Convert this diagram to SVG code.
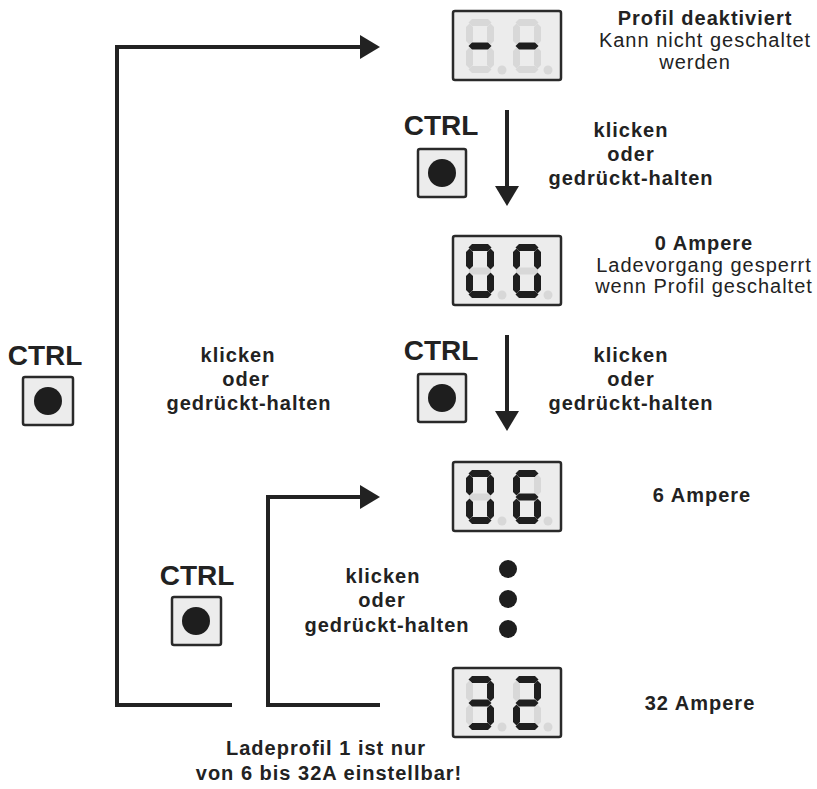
<svg xmlns="http://www.w3.org/2000/svg" width="817" height="789" viewBox="0 0 817 789">
<style>
text{font-family:"Liberation Sans",Arial,sans-serif;fill:#222;text-anchor:middle}
.b{font-weight:bold}
.t{font-size:20px;letter-spacing:1px}
.ctrl{font-size:28px;font-weight:bold}
.box{fill:#ececec;stroke:#2a2a2a;stroke-width:2.5}
.on{fill:#1e1e1e}
.off{fill:#d8d8d8}
.btn{fill:#ececec;stroke:#2a2a2a;stroke-width:2.5}
.knob{fill:#1e1e1e}
.line{fill:none;stroke:#222;stroke-width:4}
</style>
<defs>
<path id="sa" d="M2.5,3.5 l3.5,-3.5 h16 l3.5,3.5 l-3.5,3.5 h-16 z"/>
<path id="sg" d="M2.5,27 l3.5,-3.5 h16 l3.5,3.5 l-3.5,3.5 h-16 z"/>
<path id="sd" d="M2.5,50.5 l3.5,-3.5 h16 l3.5,3.5 l-3.5,3.5 h-16 z"/>
<path id="sf" d="M3.5,4.5 l3.5,3.5 v14 l-3.5,3.5 l-3.5,-3.5 v-14 z"/>
<path id="sb" d="M24.5,4.5 l3.5,3.5 v14 l-3.5,3.5 l-3.5,-3.5 v-14 z"/>
<path id="se" d="M3.5,28.5 l3.5,3.5 v14 l-3.5,3.5 l-3.5,-3.5 v-14 z"/>
<path id="sc" d="M24.5,28.5 l3.5,3.5 v14 l-3.5,3.5 l-3.5,-3.5 v-14 z"/>
<marker id="ah" markerWidth="6" markerHeight="6" refX="0" refY="3" orient="auto" markerUnits="strokeWidth" viewBox="0 0 6 6">
<path d="M0,0 L5,3 L0,6 z" fill="#222"/>
</marker>
</defs>

<g id="connectors">
<path class="line" d="M232,705 H117 V47 H360" marker-end="url(#ah)"/>
<path class="line" d="M380,705 H268 V497 H360" marker-end="url(#ah)"/>
<path class="line" d="M507,110 V186" marker-end="url(#ah)"/>
<path class="line" d="M507,335 V411" marker-end="url(#ah)"/>
</g>

<g id="display-off">
<rect class="box" x="453" y="11" width="108" height="69" rx="2"/>
<g transform="translate(466,19)">
<use href="#sa" class="off"/><use href="#sb" class="off"/><use href="#sc" class="off"/><use href="#sd" class="off"/><use href="#se" class="off"/><use href="#sf" class="off"/><use href="#sg" class="on"/>
</g>
<g transform="translate(513,19)">
<use href="#sa" class="off"/><use href="#sb" class="off"/><use href="#sc" class="off"/><use href="#sd" class="off"/><use href="#se" class="off"/><use href="#sf" class="off"/><use href="#sg" class="on"/>
</g>
<circle class="off" cx="502" cy="70" r="4.5"/><circle class="off" cx="548" cy="70" r="4.5"/>
<text class="t b" x="705" y="25">Profil deaktiviert</text>
<text class="t" x="705" y="47">Kann nicht geschaltet</text>
<text class="t" x="695" y="69">werden</text>
</g>

<g id="display-00">
<rect class="box" x="453" y="236" width="108" height="69" rx="2"/>
<g transform="translate(466,244)">
<use href="#sa" class="on"/><use href="#sb" class="on"/><use href="#sc" class="on"/><use href="#sd" class="on"/><use href="#se" class="on"/><use href="#sf" class="on"/><use href="#sg" class="off"/>
</g>
<g transform="translate(513,244)">
<use href="#sa" class="on"/><use href="#sb" class="on"/><use href="#sc" class="on"/><use href="#sd" class="on"/><use href="#se" class="on"/><use href="#sf" class="on"/><use href="#sg" class="off"/>
</g>
<circle class="off" cx="502" cy="295" r="4.5"/><circle class="off" cx="548" cy="295" r="4.5"/>
<text class="t b" x="704" y="250">0 Ampere</text>
<text class="t" x="704" y="271.5">Ladevorgang gesperrt</text>
<text class="t" x="704" y="293">wenn Profil geschaltet</text>
</g>

<g id="display-06">
<rect class="box" x="453" y="462" width="108" height="69" rx="2"/>
<g transform="translate(466,470)">
<use href="#sa" class="on"/><use href="#sb" class="on"/><use href="#sc" class="on"/><use href="#sd" class="on"/><use href="#se" class="on"/><use href="#sf" class="on"/><use href="#sg" class="off"/>
</g>
<g transform="translate(513,470)">
<use href="#sa" class="on"/><use href="#sb" class="off"/><use href="#sc" class="on"/><use href="#sd" class="on"/><use href="#se" class="on"/><use href="#sf" class="on"/><use href="#sg" class="on"/>
</g>
<circle class="off" cx="502" cy="521" r="4.5"/><circle class="off" cx="548" cy="521" r="4.5"/>
<text class="t b" x="702" y="502">6 Ampere</text>
</g>

<g id="display-32">
<rect class="box" x="453" y="668" width="108" height="69" rx="2"/>
<g transform="translate(466,676)">
<use href="#sa" class="on"/><use href="#sb" class="on"/><use href="#sc" class="on"/><use href="#sd" class="on"/><use href="#se" class="off"/><use href="#sf" class="off"/><use href="#sg" class="on"/>
</g>
<g transform="translate(513,676)">
<use href="#sa" class="on"/><use href="#sb" class="on"/><use href="#sc" class="off"/><use href="#sd" class="on"/><use href="#se" class="on"/><use href="#sf" class="off"/><use href="#sg" class="on"/>
</g>
<circle class="off" cx="502" cy="727" r="4.5"/><circle class="off" cx="548" cy="727" r="4.5"/>
<text class="t b" x="700" y="710">32 Ampere</text>
</g>

<g id="ellipsis">
<circle class="knob" cx="508" cy="569" r="9"/>
<circle class="knob" cx="508" cy="599" r="9"/>
<circle class="knob" cx="508" cy="629" r="9"/>
</g>

<g id="button-left">
<text class="ctrl" x="45" y="365">CTRL</text>
<rect class="btn" x="23" y="377" width="50" height="48" rx="2"/>
<circle class="knob" cx="48" cy="401" r="14"/>
</g>
<g id="button-top">
<text class="ctrl" x="441" y="135">CTRL</text>
<rect class="btn" x="418" y="149" width="48" height="48" rx="2"/>
<circle class="knob" cx="442" cy="173" r="14"/>
</g>
<g id="button-mid">
<text class="ctrl" x="441" y="360">CTRL</text>
<rect class="btn" x="418" y="374" width="48" height="48" rx="2"/>
<circle class="knob" cx="442" cy="398" r="14"/>
</g>
<g id="button-bottom">
<text class="ctrl" x="197" y="585">CTRL</text>
<rect class="btn" x="172" y="597" width="49" height="48" rx="2"/>
<circle class="knob" cx="196" cy="621" r="14"/>
</g>

<g id="label-top">
<text class="t b" x="631" y="137">klicken</text>
<text class="t b" x="631" y="161">oder</text>
<text class="t b" x="631" y="185">gedrückt-halten</text>
</g>
<g id="label-mid">
<text class="t b" x="631" y="362">klicken</text>
<text class="t b" x="631" y="386">oder</text>
<text class="t b" x="631" y="410">gedrückt-halten</text>
</g>
<g id="label-left">
<text class="t b" x="238" y="362">klicken</text>
<text class="t b" x="246" y="386">oder</text>
<text class="t b" x="249" y="410">gedrückt-halten</text>
</g>
<g id="label-bottom">
<text class="t b" x="383" y="583">klicken</text>
<text class="t b" x="382" y="607">oder</text>
<text class="t b" x="387" y="632">gedrückt-halten</text>
</g>
<g id="note">
<text class="t b" x="326" y="755">Ladeprofil 1 ist nur</text>
<text class="t b" x="329" y="780">von 6 bis 32A einstellbar!</text>
</g>
</svg>
